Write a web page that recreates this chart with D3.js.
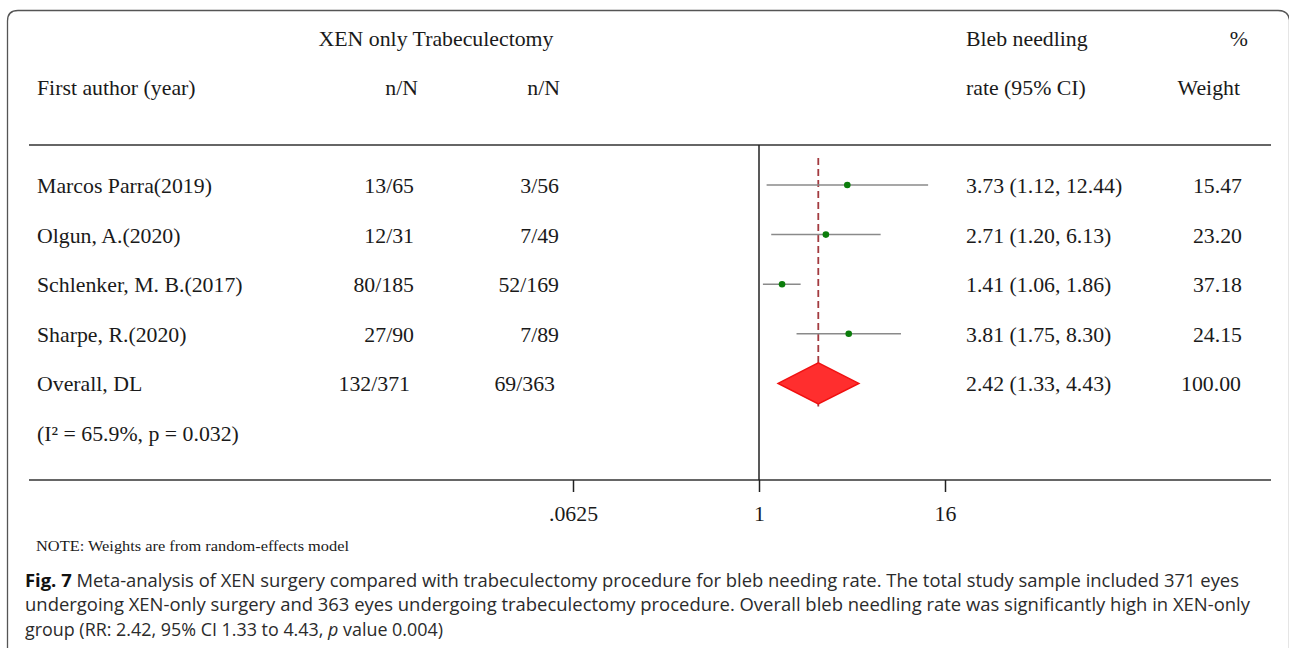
<!DOCTYPE html>
<html>
<head>
<meta charset="utf-8">
<script src="https://cdn.jsdelivr.net/npm/d3@7"></script>
<style>
  body { margin: 0; background: #fff; }
  svg { display: block; }
</style>
</head>
<body>
<svg id="drawing_region"></svg>
<script>
// study data
const studies = ["Marcos Parra(2019)", "Olgun, A.(2020)", "Schlenker, M. B.(2017)", "Sharpe, R.(2020)"];
const xenCounts = ["13/65", "12/31", "80/185", "27/90"];
const trabCounts = ["3/56", "7/49", "52/169", "7/89"];
const rr = [3.73, 2.71, 1.41, 3.81];
const ciLow = [1.12, 1.20, 1.06, 1.75];
const ciHigh = [12.44, 6.13, 1.86, 8.30];
const weights = [15.47, 23.20, 37.18, 24.15];

const overall = { label: "Overall, DL", xen: "132/371", trab: "69/363", rr: 2.42, lo: 1.33, hi: 4.43, w: 100.00 };
const hetText = "(I² = 65.9%, p = 0.032)";
const tickValues = [0.0625, 1, 16];
const tickLabels = [".0625", "1", "16"];

const config = {
    width: 1289,
    height: 648,
    left: 29, right: 1271,
    headerLine: 145, axisLine: 480,
    rowStart: 185, rowStep: 49.6,
    font: "'Liberation Serif', 'Times New Roman', serif",
    fontSize: '21.8px'
};

const svg = d3.select('#drawing_region')
    .attr('width', config.width)
    .attr('height', config.height);

// rounded frame
svg.append('path')
    .attr('d', `M7.5,660 V21 Q7.5,10.5 18,10.5 H1278 Q1288.5,10.5 1289.5,20 V660`)
    .attr('fill', 'none')
    .attr('stroke', '#555')
    .attr('stroke-width', 1.3);

const xscale = d3.scaleLog().base(2)
    .domain([1 / 16, 16])
    .range([573, 945]);

const rowY = i => config.rowStart + i * config.rowStep;

const txt = (x, y, s, anchor) => svg.append('text')
    .attr('x', x).attr('y', y)
    .attr('text-anchor', anchor || 'start')
    .attr('font-family', config.font)
    .attr('font-size', config.fontSize)
    .attr('fill', '#1a1a1a')
    .text(s);

// headers
txt(436, 46, "XEN only Trabeculectomy", 'middle');
txt(37, 95, "First author (year)");
txt(418, 95, "n/N", 'end');
txt(560, 95, "n/N", 'end');
txt(966, 46, "Bleb needling");
txt(966, 95, "rate (95% CI)");
txt(1248, 46, "%", 'end');
txt(1240, 95, "Weight", 'end');

// horizontal rules
svg.append('line')
    .attr('x1', config.left).attr('x2', config.right)
    .attr('y1', config.headerLine).attr('y2', config.headerLine)
    .attr('stroke', '#333').attr('stroke-width', 1.6);

svg.append('line')
    .attr('x1', config.left).attr('x2', config.right)
    .attr('y1', config.axisLine).attr('y2', config.axisLine)
    .attr('stroke', '#333').attr('stroke-width', 1.6);

// null line
svg.append('line')
    .attr('x1', xscale(1)).attr('x2', xscale(1))
    .attr('y1', config.headerLine).attr('y2', config.axisLine)
    .attr('stroke', '#222').attr('stroke-width', 1.5);

// axis ticks
const xaxis = d3.axisBottom(xscale)
    .tickValues(tickValues)
    .tickFormat((d, i) => tickLabels[i])
    .tickSize(12)
    .tickSizeOuter(0)
    .tickPadding(14);

const axisGroup = svg.append('g')
    .attr('transform', `translate(0, ${config.axisLine})`)
    .call(xaxis);
axisGroup.select('.domain').remove();
axisGroup.selectAll('.tick line').attr('stroke', '#222').attr('stroke-width', 1.5);
axisGroup.selectAll('.tick text')
    .attr('font-family', config.font)
    .attr('font-size', config.fontSize)
    .attr('fill', '#1a1a1a');

// overall dashed line
const overallY = rowY(4);
svg.append('line')
    .attr('x1', xscale(overall.rr)).attr('x2', xscale(overall.rr))
    .attr('y1', 158).attr('y2', overallY + 23)
    .attr('stroke', '#a33a3f')
    .attr('stroke-width', 1.8)
    .attr('stroke-dasharray', '7,4');

// study rows
const fmt = d3.format(".2f");
studies.forEach((s, i) => {
    const y = rowY(i);
    txt(37, y + 8, s);
    txt(414, y + 8, xenCounts[i], 'end');
    txt(559, y + 8, trabCounts[i], 'end');
    txt(966, y + 8, `${fmt(rr[i])} (${fmt(ciLow[i])}, ${fmt(ciHigh[i])})`);
    txt(1242, y + 8, fmt(weights[i]), 'end');

    svg.append('line')
        .attr('x1', xscale(ciLow[i])).attr('x2', xscale(ciHigh[i]))
        .attr('y1', y).attr('y2', y)
        .attr('stroke', '#8a8a8a').attr('stroke-width', 1.5);
    svg.append('circle')
        .attr('cx', xscale(rr[i])).attr('cy', y)
        .attr('r', 3.3)
        .attr('fill', '#0b7d0b');
});

// overall row
txt(37, overallY + 8, overall.label);
txt(410, overallY + 8, overall.xen, 'end');
txt(555, overallY + 8, overall.trab, 'end');
txt(966, overallY + 8, `${fmt(overall.rr)} (${fmt(overall.lo)}, ${fmt(overall.hi)})`);
txt(1241, overallY + 8, fmt(overall.w), 'end');

const dh = 20.5;
svg.append('path')
    .attr('d', `M${xscale(overall.lo)},${overallY} L${xscale(overall.rr)},${overallY - dh} L${xscale(overall.hi)},${overallY} L${xscale(overall.rr)},${overallY + dh} Z`)
    .attr('fill', '#ff2e2e')
    .attr('stroke', '#f01010')
    .attr('stroke-width', 1.5);

txt(37, rowY(5) + 8, hetText);

// note
svg.append('text')
    .attr('x', 36).attr('y', 551)
    .attr('font-family', config.font)
    .attr('font-size', '15px')
    .attr('fill', '#1a1a1a')
    .attr('textLength', 313)
    .attr('lengthAdjust', 'spacingAndGlyphs')
    .text("NOTE: Weights are from random-effects model");

// caption
const capFont = "'Open Sans', 'Noto Sans', sans-serif";
const capSize = '17.5px';
const cap1 = svg.append('text')
    .attr('x', 25).attr('y', 587)
    .attr('font-family', capFont).attr('font-size', capSize).attr('fill', '#2b2b2b')
    .attr('textLength', 1214).attr('lengthAdjust', 'spacingAndGlyphs');
cap1.append('tspan').attr('font-weight', 'bold').attr('fill', '#111').text("Fig. 7");
cap1.append('tspan').text("  Meta-analysis of XEN surgery compared with trabeculectomy procedure for bleb needing rate. The total study sample included 371 eyes");

svg.append('text')
    .attr('x', 25).attr('y', 611)
    .attr('font-family', capFont).attr('font-size', capSize).attr('fill', '#2b2b2b')
    .attr('textLength', 1225).attr('lengthAdjust', 'spacingAndGlyphs')
    .text("undergoing XEN-only surgery and 363 eyes undergoing trabeculectomy procedure. Overall bleb needling rate was significantly high in XEN-only");

const cap3 = svg.append('text')
    .attr('x', 25).attr('y', 636)
    .attr('font-family', capFont).attr('font-size', capSize).attr('fill', '#2b2b2b')
    .attr('textLength', 418).attr('lengthAdjust', 'spacingAndGlyphs');
cap3.append('tspan').text("group (RR: 2.42, 95% CI 1.33 to 4.43, ");
cap3.append('tspan').attr('font-style', 'italic').text("p");
cap3.append('tspan').text(" value 0.004)");
</script>
</body>
</html>
